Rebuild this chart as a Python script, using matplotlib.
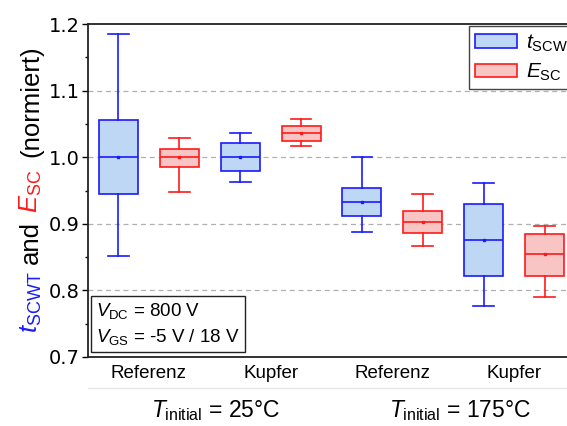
import matplotlib
matplotlib.use("Agg")
import matplotlib.pyplot as plt
from matplotlib.patches import Patch
from matplotlib.lines import Line2D

plt.rcParams['font.family'] = ['Liberation Sans', 'DejaVu Sans']
plt.rcParams['mathtext.fontset'] = 'custom'
plt.rcParams['mathtext.rm'] = 'Liberation Sans'
plt.rcParams['mathtext.it'] = 'Liberation Sans:italic'

# data
labels = ["Referenz", "Kupfer", "Referenz", "Kupfer"]
temps = ["25°C", "175°C"]

t_lo = [0.852, 0.963, 0.888, 0.777]
t_q1 = [0.945, 0.979, 0.912, 0.822]
t_med = [1.000, 1.000, 0.933, 0.876]
t_q3 = [1.056, 1.021, 0.954, 0.929]
t_hi = [1.185, 1.037, 1.000, 0.962]
t_mean = [1.000, 1.000, 0.933, 0.876]

e_lo = [0.947, 1.017, 0.866, 0.790]
e_q1 = [0.985, 1.024, 0.886, 0.821]
e_med = [1.000, 1.036, 0.903, 0.854]
e_q3 = [1.013, 1.047, 0.919, 0.885]
e_hi = [1.029, 1.057, 0.944, 0.896]
e_mean = [1.000, 1.036, 0.903, 0.854]

blue, blue_fill = '#1a1aff', '#bed7f5'
red, red_fill = '#ff1a1a', '#f9c4c4'

W, H = 567, 426
fig = plt.figure(figsize=(W / 100, H / 100), dpi=100)
ax = fig.add_axes([88 / W, 1 - 357 / H, (575 - 88) / W, (357 - 24) / H])


def stats(lo, q1, med, q3, hi, mean):
    return [dict(whislo=a, q1=b, med=c, q3=d, whishi=e, mean=f, fliers=[])
            for a, b, c, d, e, f in zip(lo, q1, med, q3, hi, mean)]


def draw(st, pos, col, fill):
    lw = 1.2
    ax.bxp(st, positions=pos, widths=0.64, patch_artist=True, showmeans=True,
           boxprops=dict(facecolor=fill, edgecolor=col, linewidth=lw),
           medianprops=dict(color=col, linewidth=lw),
           whiskerprops=dict(color=col, linewidth=lw),
           capprops=dict(color=col, linewidth=lw),
           capwidths=0.34,
           meanprops=dict(marker='s', markersize=2, markerfacecolor=col,
                          markeredgecolor=col),
           manage_ticks=False, zorder=3)


pos_t = [1, 3, 5, 7]
pos_e = [2, 4, 6, 8]
draw(stats(t_lo, t_q1, t_med, t_q3, t_hi, t_mean), pos_t, blue, blue_fill)
draw(stats(e_lo, e_q1, e_med, e_q3, e_hi, e_mean), pos_e, red, red_fill)

ax.set_xlim(0.5, 8.5)
ax.set_ylim(0.7, 1.2)
ax.set_yticks([0.7, 0.8, 0.9, 1.0, 1.1, 1.2])
ax.set_yticks([0.75, 0.85, 0.95, 1.05, 1.15], minor=True)
ax.set_yticklabels(["0.7", "0.8", "0.9", "1.0", "1.1", "1.2"], family='DejaVu Sans')
ax.tick_params(axis='y', which='major', direction='out', length=4, width=1, labelsize=14, pad=2)
ax.tick_params(axis='y', which='minor', direction='out', length=2, width=1)
ax.set_xticks([1.5, 3.5, 5.5, 7.5])
ax.set_xticklabels(labels)
ax.tick_params(axis='x', length=0, labelsize=13.5, pad=6)
for y in [0.8, 0.9, 1.0, 1.1]:
    ax.axhline(y, color='#b0b0b0', linestyle=(0, (4, 3)), linewidth=0.9, zorder=1)
for s in ax.spines.values():
    s.set_linewidth(1.3)
    s.set_color('#222222')

# text box
ax.text(96 / W, 1 - 324 / H,
        "$\\mathit{V}_\\mathrm{DC}$ = 800 V\n$\\mathit{V}_\\mathrm{GS}$ = -5 V / 18 V",
        transform=fig.transFigure, fontsize=13.5, va='center', ha='left',
        linespacing=1.45,
        bbox=dict(boxstyle='square,pad=0.25', facecolor='white', edgecolor='#222222',
                  linewidth=1.0), zorder=5)

# legend
handles = [Patch(facecolor=blue_fill, edgecolor=blue, linewidth=1.2, label="$\\mathit{t}_\\mathrm{SCWT}$"),
           Patch(facecolor=red_fill, edgecolor=red, linewidth=1.2, label="$\\mathit{E}_\\mathrm{SC}$")]
leg = ax.legend(handles=handles, loc='upper left', bbox_to_anchor=(469 / W, 1 - 26 / H),
                bbox_transform=fig.transFigure, fontsize=15, fancybox=False,
                framealpha=1, edgecolor='#444444', handlelength=2.0, handleheight=0.6,
                borderpad=0.3, labelspacing=0.4, handletextpad=0.45, borderaxespad=0)
leg.get_frame().set_linewidth(1.0)

# group labels and separator line
fig.add_artist(Line2D([88 / W, 1], [1 - 388 / H, 1 - 388 / H], transform=fig.transFigure,
                      color='#e6e6e6', linewidth=1))
fig.text(216 / W, 1 - 411 / H, "$\\mathit{T}_\\mathrm{initial}$ = " + temps[0],
         fontsize=16.5, ha='center', va='center')
fig.text(460 / W, 1 - 411 / H, "$\\mathit{T}_\\mathrm{initial}$ = " + temps[1],
         fontsize=16.5, ha='center', va='center')

# multi coloured y label, pieces placed where they start in the picture
parts = [("$\\mathit{t}_\\mathrm{SCWT}$", blue, 333), ("and", 'black', 264),
         ("$\\mathit{E}_\\mathrm{SC}$", red, 213), ("(normiert)", 'black', 157)]
for s, c, yp in parts:
    fig.text(38 / W, 1 - yp / H, s, color=c, fontsize=18.5, rotation=90,
             rotation_mode='anchor', ha='left', va='baseline')

fig.savefig("out.png", dpi=100)
